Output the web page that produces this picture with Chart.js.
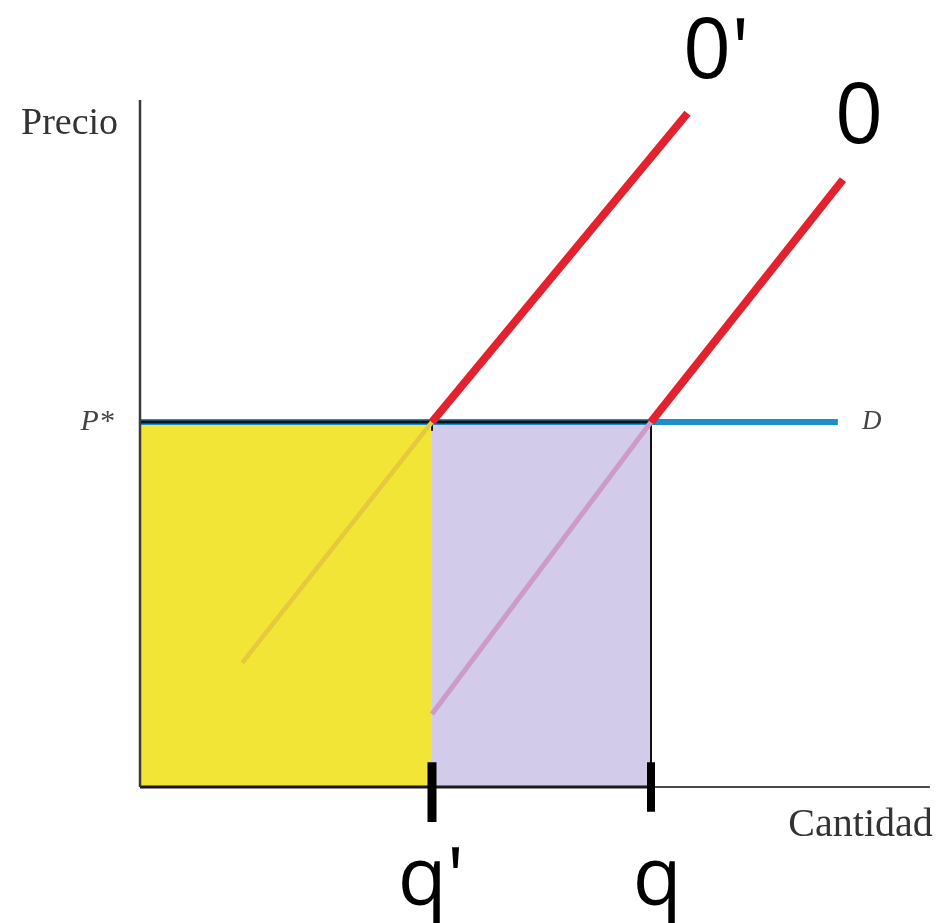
<!DOCTYPE html>
<html>
<head>
<meta charset="utf-8">
<script src="https://cdn.jsdelivr.net/npm/chart.js@4.4.0/dist/chart.umd.min.js"></script>
<style>
  html, body { margin: 0; padding: 0; background: #fff; }
  #caja { width: 938px; height: 923px; position: relative; }
</style>
</head>
<body>
<div id="caja"><canvas id="grafico"></canvas></div>
<script>
// datos del grafico (cantidad en x, precio en y)
const cantidades = ["q'", "q"];
const valoresQ = [4, 7];
const precioP = 5;
const finD = 9.56;
const ofertaPrima = [{x: 1.4, y: 1.7}, {x: 4, y: 5}, {x: 7.5, y: 9.23}];
const oferta = [{x: 4, y: 1.0}, {x: 7, y: 5}, {x: 9.63, y: 8.32}];
const finEjeX = 10.82;
const finEjeY = 9.41;

const amarillo = '#f3e536';
const lila = '#d3cbea';
const rojo = '#e3222e';

function linea(datos, color, ancho, orden) {
    return {
        data: datos,
        borderColor: color,
        borderWidth: ancho,
        pointRadius: 0,
        fill: false,
        showLine: true,
        order: orden,
        borderCapStyle: 'butt'
    };
}

// relleno amarillo / lila hasta y=0
const rellenoA = {
    data: [{x: 0, y: precioP}, {x: valoresQ[0], y: precioP}],
    borderWidth: 0, pointRadius: 0, showLine: true,
    fill: 'origin', backgroundColor: amarillo, order: 20
};
const rellenoB = {
    data: [{x: valoresQ[0], y: precioP}, {x: valoresQ[1], y: precioP}],
    borderWidth: 0, pointRadius: 0, showLine: true,
    fill: 'origin', backgroundColor: lila, order: 19
};

const curvaPrima = linea(ofertaPrima, rojo, 8, 5);
curvaPrima.segment = {
    borderColor: c => c.p0DataIndex === 0 ? '#e6c93c' : rojo,
    borderWidth: c => c.p0DataIndex === 0 ? 4.5 : 8
};
const curva = linea(oferta, rojo, 8, 5);
curva.segment = {
    borderColor: c => c.p0DataIndex === 0 ? '#cc9bc6' : rojo,
    borderWidth: c => c.p0DataIndex === 0 ? 5 : 8
};

const datasets = [
    rellenoA, rellenoB,
    linea([{x: 0, y: precioP}, {x: finD, y: precioP}], '#1d8dcb', 6, 10),
    linea([{x: 0, y: precioP}, {x: valoresQ[1], y: precioP}], '#111', 3, 8),
    linea([{x: valoresQ[1], y: precioP}, {x: valoresQ[1], y: 0}], '#111', 2, 8),
    linea([{x: valoresQ[0], y: precioP}, {x: valoresQ[0], y: precioP - 0.12}], '#111', 2, 8),
    curvaPrima, curva,
    linea([{x: 0, y: 0}, {x: 0, y: finEjeY}], '#3a3a3a', 2.5, 3),
    linea([{x: 0, y: 0}, {x: valoresQ[1], y: 0}], '#1a1a1a', 3, 3),
    linea([{x: valoresQ[1], y: 0}, {x: finEjeX, y: 0}], '#4a4a4a', 2, 3),
    linea([{x: valoresQ[0], y: 0.34}, {x: valoresQ[0], y: -0.48}], '#000', 9, 1),
    linea([{x: valoresQ[1], y: 0.34}, {x: valoresQ[1], y: -0.34}], '#000', 8, 1)
];

// textos en coordenadas de datos
const textos = [
    {t: 'Precio', x: -0.3, y: 9.08, f: '38px "Liberation Serif"', a: 'right', b: 'middle', c: '#333'},
    {t: 'P*', x: -0.36, y: 5, f: 'italic 30px "Liberation Serif"', a: 'right', b: 'middle', c: '#444'},
    {t: 'D', x: 9.89, y: 5, f: 'italic 27px "Liberation Serif"', a: 'left', b: 'middle', c: '#444'},
    {t: 'Cantidad', x: 10.86, y: -0.53, f: '40px "Liberation Serif"', a: 'right', b: 'middle', c: '#333'},
    {t: cantidades[0], x: 3.53, y: -1.62, f: '80px "Open Sans"', a: 'left', b: 'alphabetic', c: '#000'},
    {t: cantidades[1], x: 6.75, y: -1.62, f: '80px "Open Sans"', a: 'left', b: 'alphabetic', c: '#000'},
    {t: "0'", x: 7.44, y: 9.71, f: '84px "Open Sans"', a: 'left', b: 'alphabetic', c: '#000'},
    {t: '0', x: 9.52, y: 8.82, f: '84px "Open Sans"', a: 'left', b: 'alphabetic', c: '#000'}
];

const rotulos = {
    id: 'rotulos',
    afterDatasetsDraw(chart) {
        const ctx = chart.ctx;
        const sx = chart.scales.x, sy = chart.scales.y;
        ctx.save();
        for (const e of textos) {
            ctx.font = e.f;
            ctx.fillStyle = e.c;
            ctx.textAlign = e.a;
            ctx.textBaseline = e.b;
            ctx.fillText(e.t, sx.getPixelForValue(e.x), sy.getPixelForValue(e.y));
        }
        ctx.restore();
    }
};

new Chart(document.getElementById('grafico'), {
    type: 'scatter',
    data: {datasets: datasets},
    options: {
        responsive: true,
        maintainAspectRatio: false,
        animation: false,
        layout: {padding: 0},
        plugins: {legend: {display: false}, tooltip: {enabled: false}},
        scales: {
            x: {type: 'linear', display: false, min: -140 / 73, max: 798 / 73},
            y: {type: 'linear', display: false, min: -136 / 73, max: 787 / 73}
        }
    },
    plugins: [rotulos]
});
</script>
</body>
</html>
